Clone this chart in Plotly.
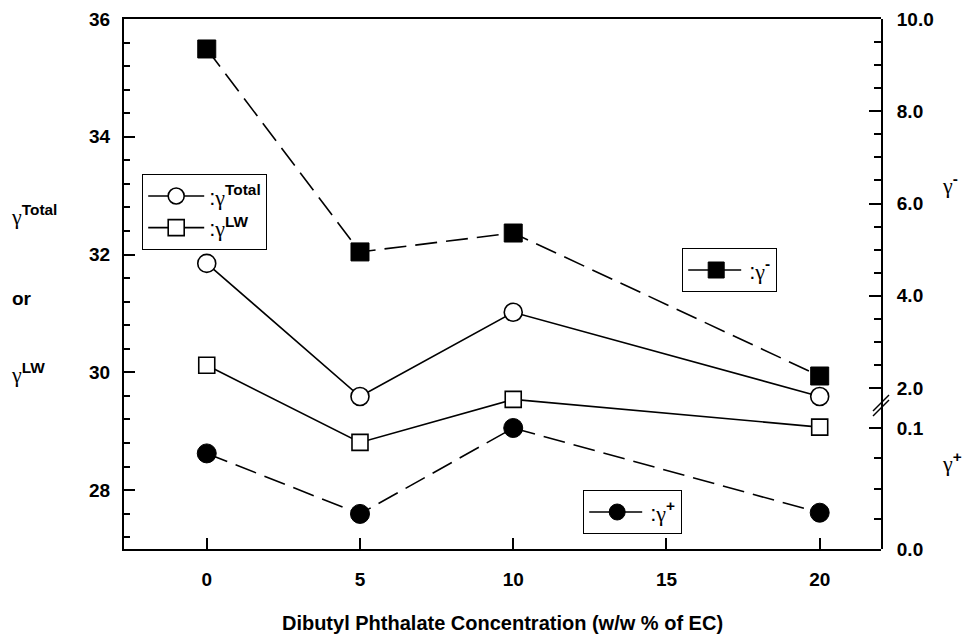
import plotly.graph_objects as go

# ---- data ----
conc = [0, 5, 10, 20]
gamma_total = [31.85, 29.59, 31.02, 29.59]
gamma_lw = [30.12, 28.81, 29.54, 29.07]
gamma_minus = [9.35, 4.95, 5.36, 2.26]
gamma_plus = [0.079, 0.029, 0.100, 0.030]

x_ticks = [0, 5, 10, 15, 20]

# ---- layout geometry (pixels) ----
W, H = 967, 639
L, R, T, B = 124, 881, 19, 549


def px_x(p):
    return (p - L) / (R - L)


def px_y(p):
    return (B - p) / (B - T)


BREAK_PX = 405
BREAK = px_y(BREAK_PX)
UP_LOW = 2 - (BREAK_PX - 388) / 46.125     # upper right axis bottom value
LO_HIGH = (B - BREAK_PX) / 1210.0          # lower right axis top value

G = "<span style='font-family:Liberation Serif'>γ</span>"
FONT = "Liberation Sans"

fig = go.Figure()

fig.add_trace(go.Scatter(
    x=conc, y=gamma_total, mode="lines+markers",
    name=":" + G + "<sup><b>Total</b></sup>",
    line=dict(color="black", width=1.6),
    marker=dict(symbol="circle", size=18, color="white",
                line=dict(color="black", width=1.6)),
    legend="legend"))
fig.add_trace(go.Scatter(
    x=conc, y=gamma_lw, mode="lines+markers",
    name=":" + G + "<sup><b>LW</b></sup>",
    line=dict(color="black", width=1.6),
    marker=dict(symbol="square", size=16, color="white",
                line=dict(color="black", width=1.6)),
    legend="legend"))
fig.add_trace(go.Scatter(
    x=conc, y=gamma_minus, mode="lines+markers", yaxis="y2",
    name=":" + G + "<sup><b>-</b></sup>",
    line=dict(color="black", width=1.6, dash="22px,9px"),
    marker=dict(symbol="square", size=18, color="black",
                line=dict(color="black", width=1)),
    legend="legend2"))
fig.add_trace(go.Scatter(
    x=conc, y=gamma_plus, mode="lines+markers", yaxis="y3",
    name=":" + G + "<sup><b>+</b></sup>",
    line=dict(color="black", width=1.6, dash="22px,9px"),
    marker=dict(symbol="circle", size=19, color="black",
                line=dict(color="black", width=1)),
    legend="legend3"))

tickfont = dict(family=FONT, size=19, color="black", weight="bold")
common_y = dict(showline=True, linecolor="black", linewidth=2, showgrid=False,
                zeroline=False, ticks="inside", tickcolor="black", tickwidth=1.5,
                tickfont=tickfont, automargin=False)

legend_common = dict(xanchor="left", yanchor="top", bordercolor="black",
                     borderwidth=1.2, bgcolor="white",
                     font=dict(family=FONT, size=22, color="black"),
                     itemwidth=56, tracegroupgap=0)

fig.update_layout(
    width=W, height=H,
    margin=dict(l=L, r=W - R, t=T, b=H - B, autoexpand=False),
    plot_bgcolor="rgba(0,0,0,0)", paper_bgcolor="white",
    font=dict(family=FONT, color="black"),
    xaxis=dict(range=[-2.7, 22], tickmode="array", tickvals=x_ticks,
               ticks="inside", ticklen=11, tickwidth=1.5, tickcolor="black",
               showline=True, linecolor="black", linewidth=2, mirror=True,
               showgrid=False, zeroline=False, tickfont=tickfont,
               ticklabelstandoff=12, automargin=False,
               title=dict(text="Dibutyl Phthalate Concentration (w/w % of EC)",
                          font=dict(family=FONT, size=20, weight="bold"),
                          standoff=27)),
    yaxis=dict(domain=[0, 1], range=[27, 36], tickmode="linear", tick0=28, dtick=2,
               ticklen=11, ticklabelstandoff=8,
               minor=dict(ticks="inside", ticklen=6, dtick=0.4, tick0=28,
                          tickcolor="black", tickwidth=1.5),
               **common_y),
    yaxis2=dict(domain=[BREAK, 1], range=[UP_LOW, 10], anchor="x", side="right",
                tickmode="linear", tick0=2, dtick=2, tickformat=".1f",
                ticklen=12, ticklabelstandoff=10,
                minor=dict(ticks="inside", ticklen=7, dtick=0.5, tick0=0,
                           tickcolor="black", tickwidth=1.5),
                **common_y),
    yaxis3=dict(domain=[0, BREAK], range=[0, LO_HIGH], anchor="x", side="right",
                tickmode="linear", tick0=0, dtick=0.1, tickformat=".1f",
                ticklen=12, ticklabelstandoff=10,
                minor=dict(ticks="inside", ticklen=7, dtick=0.025, tick0=0,
                           tickcolor="black", tickwidth=1.5),
                **common_y),
    legend=dict(x=px_x(142), y=px_y(174), **legend_common),
    legend2=dict(x=px_x(682), y=px_y(248), **legend_common),
    legend3=dict(x=px_x(583), y=px_y(490), **legend_common),
    showlegend=True,
)

# axis break marks on the right axis
for dy in (0, 5):
    fig.add_shape(type="line", xref="paper", yref="paper",
                  xsizemode="pixel", ysizemode="pixel",
                  xanchor=1, yanchor=BREAK,
                  x0=-8, x1=8, y0=-8 - dy + 2, y1=8 - dy + 2,
                  line=dict(color="black", width=1.5))

# axis titles as annotations
annots = [
    (9, 215, G + "<sup><b>Total</b></sup>"),
    (10, 298, "<b>or</b>"),
    (9, 373, G + "<sup><b>LW</b></sup>"),
    (940, 184, G + "<sup><b>-</b></sup>"),
    (940, 462, G + "<sup><b>+</b></sup>"),
]
for xp, yp, txt in annots:
    fig.add_annotation(x=px_x(xp), y=px_y(yp), xref="paper", yref="paper",
                       xanchor="left", yanchor="middle", showarrow=False,
                       text=txt,
                       font=dict(family=FONT, size=19 if "or" in txt else 22,
                                 color="black"))

fig.write_html(
    "out.html",
    config={"displayModeBar": False},
    post_script="document.body.style.margin='0';document.body.style.overflow='hidden';",
)
